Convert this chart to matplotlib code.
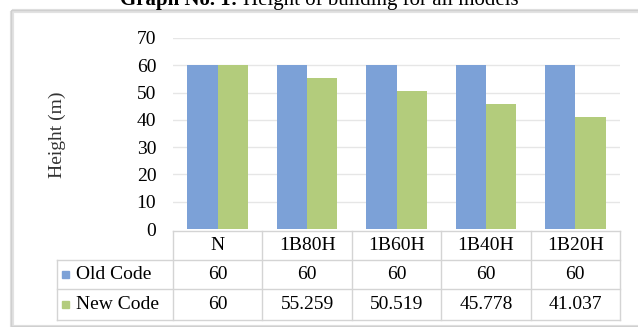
import numpy as np
import matplotlib
matplotlib.use("Agg")
import matplotlib.pyplot as plt
from matplotlib.patches import Rectangle

# data
models = ["N", "1B80H", "1B60H", "1B40H", "1B20H"]
old_code = [60, 60, 60, 60, 60]
new_code = [60, 55.259, 50.519, 45.778, 41.037]
series_names = ["Old Code", "New Code"]

blue = "#7ca1d7"
green = "#b3cc7c"
grid_col = "#e6e6e6"
line_col = "#d4d4d4"
serif = ["Liberation Serif", "DejaVu Serif"]

W, H = 638, 327
fig = plt.figure(figsize=(W / 100, H / 100), dpi=100)

def fx(x):
    return x / W

def fy(y):
    return 1 - y / H

# overlay in pixel units for frame, title and the data table
over = fig.add_axes([0, 0, 1, 1])
over.set_xlim(0, W)
over.set_ylim(H, 0)
over.axis("off")

over.add_patch(Rectangle((12, 11), 640, 316, fill=False, ec="#e2e2e2", lw=3))
over.add_patch(Rectangle((11, 10), 640, 316, fill=False, ec="#cfcfcf", lw=1))

# caption: bold prefix, plain rest placed right after it
t1 = over.text(120, 5, "Graph No. 1:", fontsize=15, fontweight="bold",
               family=serif, va="baseline", ha="left", clip_on=False)
over.annotate("Height of building for all models", xy=(1, 0), xycoords=t1,
              xytext=(4, 0), textcoords="offset points",
              fontsize=15, family=serif, va="bottom", ha="left",
              annotation_clip=False)

# bar chart
left, right, top, bottom = 173, 620, 38, 229
ax = fig.add_axes([fx(left), fy(bottom), (right - left) / W, (bottom - top) / H])
ax.set_facecolor("none")
x = np.arange(len(models))
w = 0.34
ax.bar(x - w / 2, old_code, w, color=blue, zorder=3)
ax.bar(x + w / 2, new_code, w, color=green, zorder=3)
ax.set_xlim(-0.5, len(models) - 0.5)
ax.set_ylim(0, 70)
ax.set_yticks(range(0, 80, 10))
ax.set_yticklabels([str(v) for v in range(0, 80, 10)], family=serif, fontsize=14)
ax.tick_params(axis="y", length=0, pad=12)
ax.set_xticks([])
for v in range(10, 80, 10):
    ax.axhline(v, color=grid_col, lw=1, zorder=1)
for s in ax.spines.values():
    s.set_visible(False)

fig.text(fx(57), fy(135), "Height (m)", rotation=90, ha="center", va="center",
         family=serif, fontsize=14, color="#333333")

# data table under the bars
t_top, r1, r2, t_bot = 231, 260, 289, 320
lab_left = 57
col_w = (right - left) / len(models)
over.plot([left, right], [t_top, t_top], color=line_col, lw=1)
for yy in (r1, r2, t_bot):
    over.plot([lab_left, right], [yy, yy], color=line_col, lw=1)
over.plot([lab_left, lab_left], [r1, t_bot], color=line_col, lw=1)
for k in range(len(models) + 1):
    xx = left + k * col_w
    over.plot([xx, xx], [t_top, t_bot], color=line_col, lw=1)

for k, m in enumerate(models):
    cx = left + (k + 0.5) * col_w
    over.text(cx, (t_top + r1) / 2, m, ha="center", va="center", family=serif, fontsize=14)
    over.text(cx, (r1 + r2) / 2, f"{old_code[k]:g}", ha="center", va="center",
              family=serif, fontsize=14)
    over.text(cx, (r2 + t_bot) / 2, f"{new_code[k]:g}", ha="center", va="center",
              family=serif, fontsize=14)

for (y0, y1), name, col in zip([(r1, r2), (r2, t_bot)], series_names, [blue, green]):
    cy = (y0 + y1) / 2
    over.add_patch(Rectangle((62, cy - 4), 7, 7, color=col))
    over.text(76, cy, name, ha="left", va="center", family=serif, fontsize=14)

fig.savefig("out.png", dpi=100)
